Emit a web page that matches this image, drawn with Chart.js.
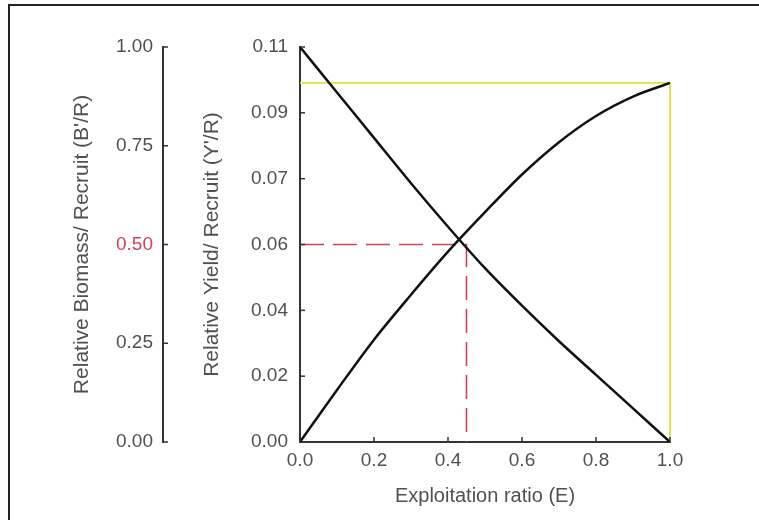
<!DOCTYPE html>
<html>
<head>
<meta charset="utf-8">
<script src="https://cdn.jsdelivr.net/npm/chart.js@4.4.1/dist/chart.umd.min.js"></script>
<style>
  html, body { margin: 0; padding: 0; background: #fff; }
  #wrap { position: relative; width: 759px; height: 520px; }
  #frame { position: absolute; left: 8px; top: 4px; width: 760px; height: 520px;
           border-top: 2px solid #222; border-left: 2px solid #222; pointer-events: none; }
</style>
</head>
<body>
<div id="wrap">
  <canvas id="myChart"></canvas>
  <div id="frame"></div>
</div>
<script>
// Exploitation ratio (E)
const eValues = [0, 0.1, 0.2, 0.3, 0.4, 0.5, 0.6, 0.7, 0.8, 0.9, 1.0];
// Relative yield per recruit (Y'/R)
const yieldValues = [0, 0.0145, 0.0285, 0.041, 0.053, 0.064, 0.0745, 0.0835, 0.0908, 0.0962, 0.1];
// Relative biomass per recruit (B'/R)
const biomassValues = [1.0, 0.885, 0.77, 0.655, 0.545, 0.44, 0.345, 0.255, 0.17, 0.085, 0];

// guide lines
const yellowE = [0, 1, 1];
const yellowY = [0.1, 0.1, 0];
const redE = [0, 0.45, 0.45];
const redB = [0.5, 0.5, 0];

// tick labels as printed on the original
const yTickLabels = ['0.00', '0.02', '0.04', '0.06', '0.07', '0.09', '0.11'];
const bTickLabels = ['0.00', '0.25', '0.50', '0.75', '1.00'];
const xTickLabels = ['0.0', '0.2', '0.4', '0.6', '0.8', '1.0'];

const textColor = '#505050';
const font = 'Liberation Sans, Arial, sans-serif';

function pts(xs, ys) {
  return xs.map((x, i) => ({x: x, y: ys[i]}));
}

// small tick marks pointing into the plot
const innerTicks = {
  id: 'innerTicks',
  afterDraw(chart) {
    const ctx = chart.ctx;
    ctx.save();
    ctx.strokeStyle = '#333';
    ctx.lineWidth = 1.5;
    ['b', 'y'].forEach(id => {
      const s = chart.scales[id];
      s.ticks.forEach(t => {
        const py = s.getPixelForValue(t.value);
        ctx.beginPath();
        ctx.moveTo(s.right, py);
        ctx.lineTo(s.right + 5, py);
        ctx.stroke();
      });
    });
    const sx = chart.scales.x;
    sx.ticks.forEach(t => {
      const px = sx.getPixelForValue(t.value);
      ctx.beginPath();
      ctx.moveTo(px, sx.top);
      ctx.lineTo(px, sx.top - 5);
      ctx.stroke();
    });
    ctx.restore();
  }
};

const ctx = document.getElementById('myChart');
const myChart = new Chart(ctx, {
  type: 'line',
  data: {
    datasets: [
      {
        label: "Y'/R",
        data: pts(eValues, yieldValues),
        yAxisID: 'y',
        borderColor: '#111',
        borderWidth: 2.5,
        pointRadius: 0,
        cubicInterpolationMode: 'monotone',
        order: 1
      },
      {
        label: "B'/R",
        data: pts(eValues, biomassValues),
        yAxisID: 'b',
        borderColor: '#111',
        borderWidth: 2.5,
        pointRadius: 0,
        cubicInterpolationMode: 'monotone',
        order: 2
      },
      {
        label: 'max',
        data: pts(yellowE, yellowY),
        yAxisID: 'y',
        borderColor: '#e0e03a',
        borderWidth: 1.8,
        pointRadius: 0,
        clip: false,
        order: 4
      },
      {
        label: 'E50',
        data: pts(redE, redB),
        yAxisID: 'b',
        borderColor: '#d2405c',
        borderWidth: 1.6,
        borderDash: [24, 9],
        pointRadius: 0,
        order: 3
      }
    ]
  },
  options: {
    responsive: true,
    maintainAspectRatio: false,
    animation: false,
    layout: { padding: { left: 10, top: 47, right: 89, bottom: 0 } },
    plugins: {
      legend: { display: false },
      tooltip: { enabled: false }
    },
    scales: {
      x: {
        type: 'linear',
        position: 'bottom',
        min: 0, max: 1,
        grid: { drawOnChartArea: false, drawTicks: false },
        border: { color: '#333', width: 2 },
        ticks: {
          stepSize: 0.2,
          padding: 7,
          color: textColor,
          font: { family: font, size: 19 },
          callback: (v, i) => xTickLabels[i]
        },
        title: {
          display: true,
          text: 'Exploitation ratio (E)',
          color: textColor,
          font: { family: font, size: 20 },
          padding: { top: 0, bottom: 12 }
        },
        afterFit: s => { s.height = 78; }
      },
      y: {
        type: 'linear',
        position: 'left',
        weight: 0,
        min: 0, max: 0.11,
        grid: { drawOnChartArea: false, drawTicks: false },
        border: { color: '#333', width: 2 },
        ticks: {
          count: 7,
          padding: 12,
          color: textColor,
          font: { family: font, size: 19 },
          callback: (v, i) => yTickLabels[i]
        },
        title: {
          display: true,
          text: "Relative Yield/ Recruit (Y'/R)",
          color: textColor,
          font: { family: font, size: 21 },
          padding: { top: 37, bottom: 0 }
        },
        afterFit: s => { s.width = 137; }
      },
      b: {
        type: 'linear',
        position: 'left',
        weight: 1,
        min: 0, max: 1,
        grid: { drawOnChartArea: false, drawTicks: false },
        border: { color: '#333', width: 2 },
        ticks: {
          stepSize: 0.25,
          padding: 10,
          color: c => c.tick && c.tick.value === 0.5 ? '#d2405c' : textColor,
          font: { family: font, size: 19 },
          callback: (v, i) => bTickLabels[i]
        },
        title: {
          display: true,
          text: "Relative Biomass/ Recruit (B'/R)",
          color: textColor,
          font: { family: font, size: 21 },
          padding: { top: 60, bottom: 0 }
        },
        afterFit: s => { s.width = 153; }
      }
    }
  },
  plugins: [innerTicks]
});
</script>
</body>
</html>
